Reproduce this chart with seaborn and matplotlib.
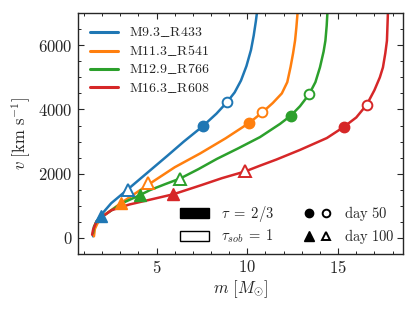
import numpy as np
import pandas as pd
import matplotlib
matplotlib.use("Agg")
import matplotlib.pyplot as plt
import seaborn as sns
from matplotlib.patches import Patch
from matplotlib.lines import Line2D
from matplotlib.legend_handler import HandlerTuple

# ---------------- data ----------------
models = ["M9.3_R433", "M11.3_R541", "M12.9_R766", "M16.3_R608"]
labels = [r"$\mathrm{M9.3}\_\!\!\_\mathrm{R433}$", r"$\mathrm{M11.3}\_\!\!\_\mathrm{R541}$",
          r"$\mathrm{M12.9}\_\!\!\_\mathrm{R766}$", r"$\mathrm{M16.3}\_\!\!\_\mathrm{R608}$"]
colors = ["#1f77b4", "#ff7f0e", "#2ca02c", "#d62728"]

m_blue = [1.50, 1.55, 1.68, 1.95, 2.5, 3.43, 4.64, 5.6, 6.5, 7.55, 8.3, 8.87,
          9.3, 9.65, 9.95, 10.2, 10.35, 10.47, 10.55]
v_blue = [50, 300, 500, 720, 1080, 1520, 2100, 2560, 3000, 3480, 3870, 4220,
          4530, 4900, 5350, 5850, 6300, 6750, 7100]

m_orange = [1.55, 1.6, 1.75, 2.1, 3.05, 4.6, 6.0, 7.4, 8.8, 10.1, 10.83, 11.4,
            11.9, 12.2, 12.38, 12.52, 12.63, 12.7, 12.78]
v_orange = [50, 280, 460, 700, 1090, 1680, 2200, 2630, 3100, 3580, 3910, 4200,
            4500, 4850, 5320, 5750, 6150, 6550, 7100]

m_green = [1.5, 1.55, 1.7, 2.05, 3.06, 4.07, 4.64, 5.5, 6.3, 7.3, 8.32, 9.5,
           10.7, 11.8, 12.4, 12.9, 13.4, 13.75, 14.0, 14.2, 14.3, 14.37, 14.42]
v_green = [150, 350, 520, 680, 1070, 1330, 1490, 1680, 1850, 2140, 2460, 2790,
           3140, 3550, 3810, 4100, 4470, 4850, 5310, 5800, 6140, 6600, 7100]

m_red = [1.45, 1.5, 1.68, 2.0, 2.51, 3.5, 4.64, 5.93, 7.5, 8.6, 9.88, 10.7,
         11.6, 12.9, 14.38, 15.3, 16.0, 16.58, 17.0, 17.3, 17.47, 17.6, 17.69, 17.75]
v_red = [100, 250, 500, 660, 860, 1040, 1190, 1360, 1650, 1860, 2070, 2250,
         2440, 2740, 3110, 3450, 3750, 4150, 4600, 5000, 5310, 5750, 6140, 7100]

# markers: photosphere (tau=2/3, filled) and Sobolev (tau_sob=1, open)
ph50_m = [7.55, 10.1, 12.4, 15.3]
ph50_v = [3480, 3580, 3810, 3450]
sob50_m = [8.87, 10.83, 13.4, 16.6]
sob50_v = [4220, 3910, 4470, 4150]
ph100_m = [1.95, 3.05, 4.07, 5.93]
ph100_v = [680, 1080, 1330, 1360]
sob100_m = [3.43, 4.53, 6.28, 9.88]
sob100_v = [1500, 1700, 1845, 2070]

xticks = [5, 10, 15]
yticks = [0, 2000, 4000, 6000]

# ---------------- style ----------------
sns.set_style("ticks")
plt.rcParams.update({
    "font.family": "serif",
    "font.serif": ["cmr10"],
    "mathtext.fontset": "cm",
    "axes.formatter.use_mathtext": True,
    "axes.unicode_minus": False,
    "font.size": 12,
})

curves_m = [m_blue, m_orange, m_green, m_red]
curves_v = [v_blue, v_orange, v_green, v_red]
frames = []
for lab, mm, vv in zip(labels, curves_m, curves_v):
    frames.append(pd.DataFrame({"m": mm, "v": vv, "model": lab,
                                "order": np.arange(len(mm))}))
df = pd.concat(frames, ignore_index=True)

fig = plt.figure(figsize=(4.15, 3.12), dpi=100)
ax = fig.add_axes([0.187, 0.186, 0.783, 0.772])

sns.lineplot(data=df, x="m", y="v", hue="model", palette=colors,
             sort=False, estimator=None, units="model", lw=1.8, ax=ax,
             legend=False)

for i in range(4):
    c = colors[i]
    ax.plot(ph50_m[i], ph50_v[i], "o", color=c, ms=7.5, zorder=5)
    ax.plot(sob50_m[i], sob50_v[i], "o", color=c, mfc="white", mew=1.4, ms=7, zorder=5)
    ax.plot(ph100_m[i], ph100_v[i], "^", color=c, ms=8, zorder=5)
    ax.plot(sob100_m[i], sob100_v[i], "^", color=c, mfc="white", mew=1.4, ms=8, zorder=5)

ax.set_xlim(0.65, 18.55)
ax.set_ylim(-500, 7000)
ax.set_xticks(xticks)
ax.set_yticks(yticks)
ax.xaxis.set_minor_locator(matplotlib.ticker.MultipleLocator(1))
ax.yaxis.set_minor_locator(matplotlib.ticker.MultipleLocator(500))
ax.tick_params(which="both", direction="in", top=True, right=True, labelsize=12)
ax.tick_params(which="major", length=4.5, width=0.8)
ax.tick_params(which="minor", length=2.5, width=0.7)
for s in ax.spines.values():
    s.set_linewidth(1.0)

ax.set_xlabel(r"$m\ [M_{\odot}]$", fontsize=12, labelpad=2)
ax.set_ylabel(r"$v\ [\mathrm{km\ s^{-1}}]$", fontsize=12, labelpad=4)

# legend 1: models
h1 = [Line2D([], [], color=c, lw=2.2) for c in colors]
leg1 = ax.legend(h1, labels, loc="upper left", frameon=False, fontsize=10,
                 handlelength=2.0, borderaxespad=0.5, labelspacing=0.3)
ax.add_artist(leg1)

# legend 2: tau / day
h2 = [Patch(facecolor="black", edgecolor="black"),
      Patch(facecolor="white", edgecolor="black"),
      (Line2D([], [], ls="", marker="o", color="black", ms=6),
       Line2D([], [], ls="", marker="o", color="black", mfc="white", mew=1.4, ms=5.5)),
      (Line2D([], [], ls="", marker="^", color="black", ms=6.5),
       Line2D([], [], ls="", marker="^", color="black", mfc="white", mew=1.4, ms=6))]
l2 = [r"$\tau\;=\;2/3$", r"$\tau_{sob}\;=\;1$", r"$\mathrm{day\ 50}$", r"$\mathrm{day\ 100}$"]
ax.legend(h2, l2, ncol=2, loc="lower right", frameon=False, fontsize=10.5,
          handler_map={tuple: HandlerTuple(ndivide=None)},
          bbox_to_anchor=(1.0, 0.0), borderaxespad=0.15, columnspacing=2.0,
          labelspacing=0.25)

fig.savefig("out.png", dpi=100)
